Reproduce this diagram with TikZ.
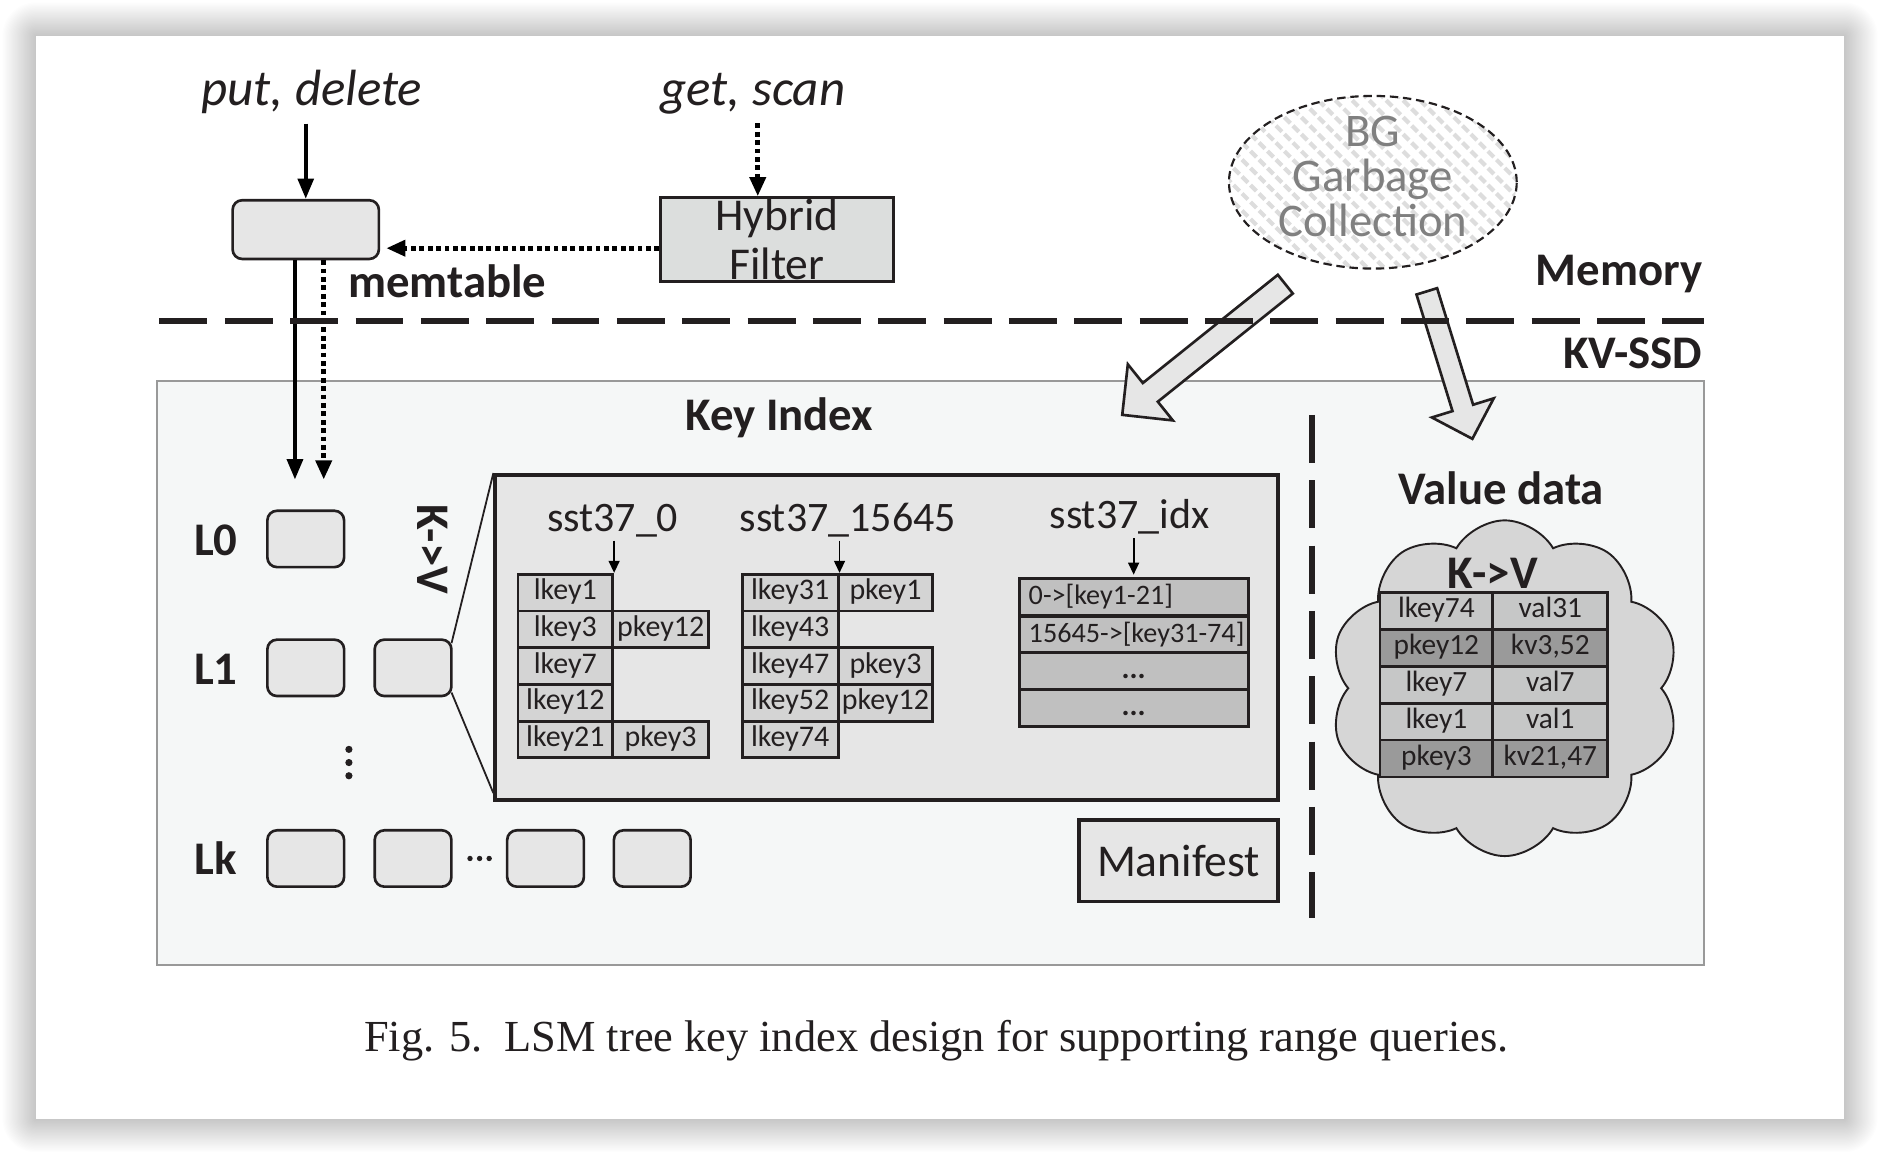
\documentclass[tikz,border=0pt]{standalone}
\usepackage{fontspec}
\setmainfont{Carlito}
\newfontfamily\capfont{Liberation Serif}
\usetikzlibrary{arrows.meta,calc,shapes.geometric,shapes.symbols,patterns.meta}

\definecolor{ink}{HTML}{231F20}
\definecolor{boxgray}{HTML}{E6E6E6}
\definecolor{cellgray}{HTML}{D4D4D4}
\definecolor{idxgray}{HTML}{C0C0C0}
\definecolor{ssdfill}{HTML}{F5F7F7}
\definecolor{ssdline}{HTML}{999999}
\definecolor{hybfill}{HTML}{DCDEDD}
\definecolor{vlight}{HTML}{C6C7C7}
\definecolor{vdark}{HTML}{9A9A9A}
\definecolor{cloudfill}{HTML}{D6D6D6}
\definecolor{gctext}{HTML}{808080}
\definecolor{stripe}{HTML}{DDDDDD}

\newcommand\fBold{\fontsize{39}{44}\selectfont\bfseries}
\newcommand\fReg{\fontsize{38}{41}\selectfont}
\newcommand\fSst{\fontsize{35}{40}\selectfont}
\newcommand\fIt{\fontsize{42.5}{46}\selectfont\itshape}
\newcommand\fCell{\fontsize{25}{30}\selectfont}
\newcommand\fIdx{\fontsize{23.5}{30}\selectfont}
\newcommand\fVal{\fontsize{24.5}{30}\selectfont}
\newcommand\fCap{\capfont\fontsize{37}{42}\selectfont}

\newcommand\blockarr[5]{%
  \coordinate (ba-b) at ($(#2)!#5!(#1)$);
  \draw[blockarrow] ($(#1)!#3!90:(#2)$) -- ($(ba-b)!#3!90:(#2)$) -- ($(ba-b)!#4!90:(#2)$) -- (#2)
    -- ($(ba-b)!#4!-90:(#2)$) -- ($(ba-b)!#3!-90:(#2)$) -- ($(#1)!#3!-90:(#2)$) -- cycle;
}

\begin{document}
\begin{tikzpicture}[x=1pt,y=-1pt,
  every node/.style={text=ink,inner sep=0pt},
  lvbox/.style={draw=ink,line width=2.2pt,fill=boxgray,rounded corners=8pt,minimum width=64pt,minimum height=47pt},
  cell/.style={draw=ink,line width=2.4pt,fill=cellgray,minimum height=30.6pt,font=\fCell,text height=16pt,text depth=4pt},
  idxcell/.style={draw=ink,line width=2.4pt,fill=idxgray,minimum height=31pt,minimum width=191pt,font=\fCell\bfseries,text height=16pt,text depth=4pt},
  idxtext/.style={font=\fIdx,anchor=west,text height=16pt,text depth=4pt},
  vcell/.style={cell,minimum height=30.8pt,font=\fVal},
  lbl/.style={font=\fBold,anchor=base},
  solidarr/.style={line width=3.5pt,-{Triangle[length=17pt,width=13pt]}},
  dotarr/.style={line width=4pt,dash pattern=on 4pt off 3pt,-{Triangle[length=16pt,width=13pt]}},
  smallarr/.style={line width=1.6pt,-{Triangle[length=10pt,width=9pt]}},
  blockarrow/.style={draw=ink,line width=2.2pt,fill=boxgray,line join=miter},
  sepdash/.style={draw=ink,line width=5pt,dash pattern=on 40pt off 14.5pt},
  dotnode/.style={circle,fill=ink,minimum size=#1},
  zoomline/.style={draw=ink,line width=1.5pt},
]
\useasboundingbox (0,0) rectangle (1568,964);
% background and page shadow
\fill[white] (0,0) rectangle (1568,964);
\foreach \i in {1,...,28}
  \fill[black,opacity=0.006,rounded corners=\i pt] (30-\i,30-\i) rectangle (1538+\i,933+\i);
\fill[white] (30,30) rectangle (1538,933);

% ---------- KV-SSD box ----------
\node[draw=ssdline,line width=2pt,fill=ssdfill,minimum width=1290pt,minimum height=487pt] (ssd) at (776,561.5) {};
\node[lbl] (kilbl) at (650,359) {Key Index};

% ---------- memory part ----------
\node[font=\fIt,anchor=base] (putdel) at (260,88) {put, delete};
\node[font=\fIt,anchor=base] (getscan) at (628,88) {get, scan};
\node[lvbox,minimum width=122pt,minimum height=49pt] (mem) at (255,191.5) {};
\node[lbl] (memlbl) at (373,248) {memtable};
\node[draw=ink,line width=2.5pt,fill=hybfill,minimum width=194pt,minimum height=70pt] (hyb) at (648,200) {};
\node[font=\fReg,anchor=base] (hyb1) at (648,192) {Hybrid};
\node[font=\fReg,anchor=base] (hyb2) at (648,233) {Filter};

\coordinate (gsx) at (632,103);
\coordinate (x246) at (246,0);
\coordinate (x270) at (270,0);
\coordinate (y207) at (0,207);
\coordinate (l0a) at (246,400);
\coordinate (l0b) at (270,400);

\draw[solidarr,shorten <=8pt] (putdel.south -| mem.north) -- (mem.north);
\draw[dotarr] (gsx) -- (gsx |- hyb.north);
\draw[dotarr,shorten >=5pt] (hyb.west |- y207) -- (mem.east |- y207);
\draw[solidarr] (mem.south -| x246) -- (l0a);
\draw[dotarr] (mem.south -| x270) -- (l0b);

% GC ellipse
\node[ellipse,draw=ink,line width=1.8pt,dash pattern=on 7pt off 4pt,
      pattern={Lines[angle=-45,distance=10pt,line width=3.5pt]},pattern color=stripe,
      minimum width=240pt,minimum height=144pt] (gc) at (1145,152) {};
\node[font=\fBold\mdseries,text=gctext,anchor=base] (gc1) at (1145,122) {BG};
\node[font=\fBold\mdseries,text=gctext,anchor=base] (gc2) at (1145,160) {Garbage};
\node[font=\fBold\mdseries,text=gctext,anchor=base] (gc3) at (1145,197) {Collection};

\node[lbl,anchor=base east] (memory) at (1420,238) {Memory};
\node[lbl,anchor=base east] (kvssd) at (1420,307) {KV-SSD};

% levels
\node[lbl] (L0) at (180,463) {L0};
\node[lbl] (L1) at (180,571) {L1};
\node[lbl] (Lk) at (180,729) {Lk};
\node[lvbox] (L0a) at (255,449.5) {};
\node[lvbox] (L1a) at (255,557) {};
\node[lvbox] (L1b) at (344.5,557) {};
\node[lvbox] (Lka) at (255,716) {};
\node[lvbox] (Lkb) at (344.5,716) {};
\node[lvbox] (Lkc) at (455,716) {};
\node[lvbox] (Lkd) at (544,716) {};
\node[dotnode=6pt] (vd1) at (291,625) {};
\node[dotnode=6pt] (vd2) at (291,636) {};
\node[dotnode=6pt] (vd3) at (291,647) {};
\node[dotnode=4.5pt] (hd1) at (392,716) {};
\node[dotnode=4.5pt] (hd2) at (400,716) {};
\node[dotnode=4.5pt] (hd3) at (408,716) {};

\node[font=\fBold,rotate=-90] (kv1) at (361,458) {K->V};

% key index box
\node[draw=ink,line width=3pt,fill=boxgray,minimum width=653pt,minimum height=271pt] (ki) at (739.5,531.5) {};
\draw[zoomline] ($(L1b.north east)+(-1,4)$) -- (ki.north west);
\draw[zoomline] ($(L1b.south east)+(-1,-4)$) -- ($(ki.south west)+(0,-7)$);

\node[font=\fSst,anchor=base] (s0) at (511,443) {sst37\_0};
\node[font=\fSst,anchor=base] (s1) at (707,443) {sst37\_15645};
\node[font=\fSst,anchor=base] (s2) at (942,441) {sst37\_idx};

% table sst37_0
\node[cell,minimum width=79pt] (a1) at (471.5,494.3) {lkey1};
\node[cell,minimum width=79pt] (a2) at (471.5,524.9) {lkey3};
\node[cell,minimum width=79pt] (a3) at (471.5,555.5) {lkey7};
\node[cell,minimum width=79pt] (a4) at (471.5,586.1) {lkey12};
\node[cell,minimum width=79pt] (a5) at (471.5,616.7) {lkey21};
\node[cell,minimum width=80pt] (b2) at (551,524.9) {pkey12};
\node[cell,minimum width=80pt] (b5) at (551,616.7) {pkey3};
% table sst37_15645
\node[cell,minimum width=80pt] (c1) at (659,494.3) {lkey31};
\node[cell,minimum width=80pt] (c2) at (659,524.9) {lkey43};
\node[cell,minimum width=80pt] (c3) at (659,555.5) {lkey47};
\node[cell,minimum width=80pt] (c4) at (659,586.1) {lkey52};
\node[cell,minimum width=80pt] (c5) at (659,616.7) {lkey74};
\node[cell,minimum width=79pt] (d1) at (738.5,494.3) {pkey1};
\node[cell,minimum width=79pt] (d3) at (738.5,555.5) {pkey3};
\node[cell,minimum width=79pt] (d4) at (738.5,586.1) {pkey12};
% table sst37_idx
\node[idxcell] (i1) at (945.5,498) {};
\node[idxcell] (i2) at (945.5,529.5) {};
\node[idxcell] (i3) at (945.5,560) {...};
\node[idxcell] (i4) at (945.5,590.5) {...};
\node[idxtext] (i1t) at ($(i1.west)+(9,0)$) {0->[key1-21]};
\node[idxtext] (i2t) at ($(i2.west)+(9,0)$) {15645->[key31-74]};

\draw[smallarr,shorten <=3pt] (s0.south -| a1.north east) -- (a1.north east);
\draw[smallarr,shorten <=3pt] (s1.south -| c1.north east) -- (c1.north east);
\draw[smallarr,shorten <=3pt,shorten >=2pt] (s2.south -| i1.north) -- (i1.north);

% manifest
\node[draw=ink,line width=3pt,fill=boxgray,minimum width=166pt,minimum height=68pt,font=\fReg] (mani) at (983,718) {Manifest};

% vertical separator
\coordinate (vsT) at (1094,346);
\coordinate (vsB) at (1094,766);
\draw[sepdash] (vsT) -- (vsB);

% value data
\node[lbl] (vdlbl) at (1252,421) {Value data};
\node[cloud,cloud puffs=10,cloud puff arc=120,aspect=1.05,draw=ink,line width=1.6pt,fill=cloudfill,
      minimum width=292pt,minimum height=280pt] (cloud) at (1255,574) {};
\node[lbl] (kv2) at (1245,491) {K->V};
\node[vcell,fill=vlight,minimum width=94pt] (v1l) at (1198,509.4) {lkey74};
\node[vcell,fill=vdark,minimum width=94pt] (v2l) at (1198,540.2) {pkey12};
\node[vcell,fill=vlight,minimum width=94pt] (v3l) at (1198,571) {lkey7};
\node[vcell,fill=vlight,minimum width=94pt] (v4l) at (1198,601.8) {lkey1};
\node[vcell,fill=vdark,minimum width=94pt] (v5l) at (1198,632.6) {pkey3};
\node[vcell,fill=vlight,minimum width=96pt] (v1r) at (1293,509.4) {val31};
\node[vcell,fill=vdark,minimum width=96pt] (v2r) at (1293,540.2) {kv3,52};
\node[vcell,fill=vlight,minimum width=96pt] (v3r) at (1293,571) {val7};
\node[vcell,fill=vlight,minimum width=96pt] (v4r) at (1293,601.8) {val1};
\node[vcell,fill=vdark,minimum width=96pt] (v5r) at (1293,632.6) {kv21,47};

% block arrows from GC
\coordinate (gcA) at (1072,237);
\coordinate (kiA) at (936,346);
\coordinate (gcB) at (1190,243);
\coordinate (vdB) at (1228,366);
\blockarr{gcA}{kiA}{10pt}{30pt}{30pt}
\blockarr{gcB}{vdB}{9pt}{27pt}{27pt}

% memory / SSD separator
\coordinate (sepL) at (133,268);
\coordinate (sepR) at (1421,268);
\draw[sepdash] (sepL) -- (sepR);

% caption
\node[font=\fCap,anchor=base] (cap) at (781,877) {Fig. 5.\hspace{0.5em}LSM tree key index design for supporting range queries.};
\end{tikzpicture}
\end{document}
